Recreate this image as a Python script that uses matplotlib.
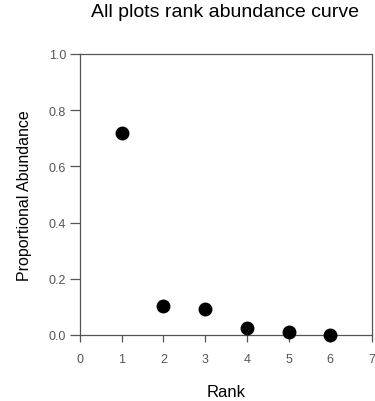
import matplotlib
matplotlib.use('Agg')
import matplotlib.pyplot as plt

plt.rcParams['font.family'] = ['Liberation Sans', 'DejaVu Sans']

# rank abundance values
rank = [1, 2, 3, 4, 5, 6]
abundance = [0.719, 0.104, 0.094, 0.024, 0.012, 0.0]

x_ticks = [0, 1, 2, 3, 4, 5, 6, 7]
y_ticks = [0.0, 0.2, 0.4, 0.6, 0.8, 1.0]

fig = plt.figure(figsize=(3.75, 4.02), dpi=100)
ax = fig.add_axes([0.2133, 0.1642, 0.7787, 0.699])

ax.plot(rank, abundance, 'o', color='black', markersize=9, clip_on=False, zorder=5)

ax.set_xlim(0, 7)
ax.set_ylim(0, 1.0)
ax.set_xticks(x_ticks)
ax.set_yticks(y_ticks)
ax.set_yticklabels([f'{v:.1f}' for v in y_ticks])

for s in ax.spines.values():
    s.set_color('#555555')
    s.set_linewidth(0.9)

ax.tick_params(axis='y', direction='out', length=7, width=0.9, color='#555555',
               labelsize=9, labelcolor='#555555', pad=3)
ax.tick_params(axis='x', direction='out', length=5, width=0.9, color='#555555',
               labelsize=9, labelcolor='#555555', pad=8)

ax.set_xlabel('Rank', fontsize=12, labelpad=14)
ax.set_ylabel('Proportional Abundance', fontsize=11.5, labelpad=12)
fig.text(0.6, 0.97, 'All plots rank abundance curve', fontsize=14,
         ha='center', va='center')

fig.savefig('out.png', dpi=100)
